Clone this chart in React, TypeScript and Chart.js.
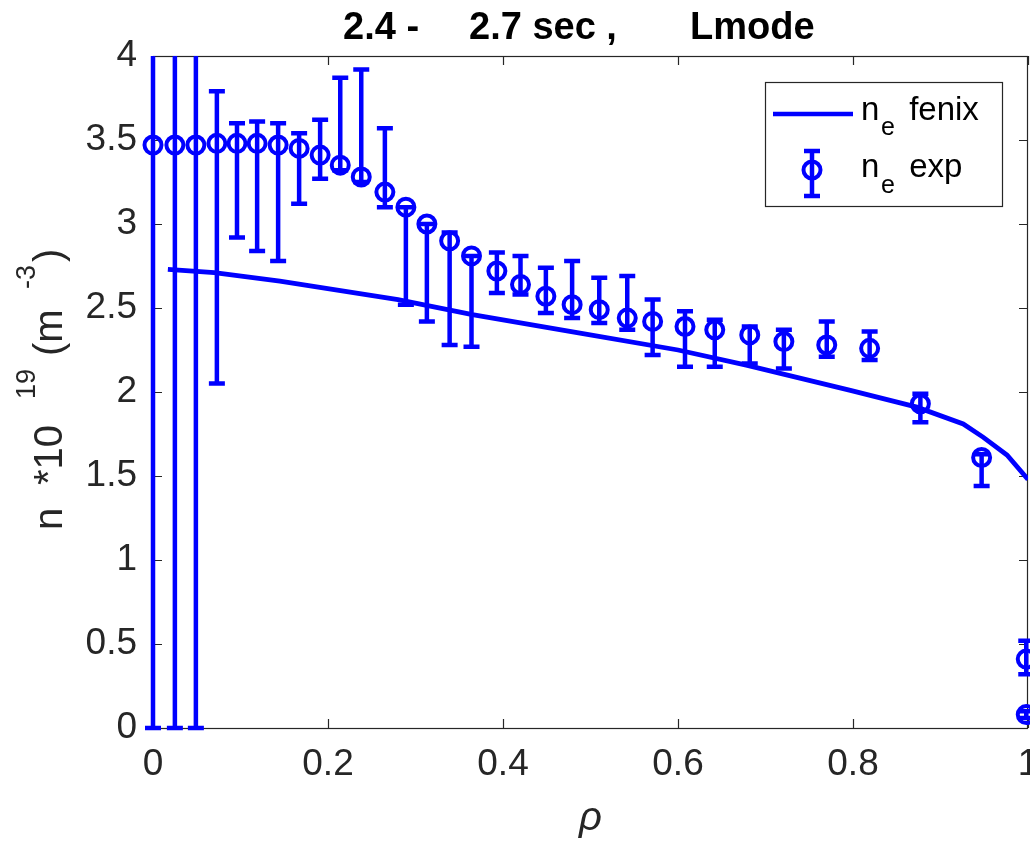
import React, { useEffect, useRef } from "react";
import { Chart, registerables } from "chart.js";

Chart.register(...registerables);

// ---- data ----
const rhoExp = [
  0.0, 0.025, 0.049, 0.073, 0.096, 0.119, 0.143, 0.167, 0.191, 0.214, 0.238,
  0.265, 0.289, 0.313, 0.339, 0.364, 0.393, 0.42, 0.449, 0.479, 0.51, 0.542,
  0.571, 0.608, 0.642, 0.682, 0.721, 0.77, 0.819, 0.877, 0.947, 0.998, 0.998,
];
const neExp = [
  3.47, 3.47, 3.47, 3.48, 3.48, 3.48, 3.47, 3.45, 3.41, 3.35, 3.28, 3.19, 3.1,
  3.0, 2.9, 2.81, 2.72, 2.64, 2.57, 2.52, 2.49, 2.44, 2.42, 2.39, 2.37, 2.34,
  2.3, 2.28, 2.26, 1.93, 1.61, 0.41, 0.08,
];
const neErrLow = [
  0.0, 0.0, 0.0, 2.05, 2.92, 2.84, 2.78, 3.12, 3.27, 3.32, 3.25, 3.1, 2.52,
  2.42, 2.28, 2.27, 2.59, 2.58, 2.47, 2.44, 2.41, 2.37, 2.22, 2.15, 2.15, 2.17,
  2.14, 2.21, 2.19, 1.82, 1.44, 0.32, 0.06,
];
const neErrHigh = [
  5.0, 5.0, 5.0, 3.79, 3.6, 3.61, 3.6, 3.54, 3.62, 3.87, 3.92, 3.57, 3.1, 3.0,
  2.95, 2.81, 2.83, 2.81, 2.74, 2.78, 2.68, 2.69, 2.55, 2.48, 2.43, 2.39, 2.37,
  2.42, 2.36, 1.99, 1.63, 0.52, 0.1,
];
const rhoFenix = [
  0.017, 0.07, 0.145, 0.28, 0.365, 0.488, 0.6, 0.678, 0.797, 0.873, 0.926,
  0.949, 0.976, 1.0,
];
const neFenix = [
  2.73, 2.71, 2.66, 2.55, 2.46, 2.35, 2.25, 2.16, 2.01, 1.91, 1.81, 1.73,
  1.625, 1.48,
];
const xTicks = [0, 0.2, 0.4, 0.6, 0.8, 1];
const xTickLabels = ["0", "0.2", "0.4", "0.6", "0.8", "1"];
const yTicks = [0, 0.5, 1, 1.5, 2, 2.5, 3, 3.5, 4];
const yTickLabels = ["0", "0.5", "1", "1.5", "2", "2.5", "3", "3.5", "4"];
const titleParts = ["2.4 -", "2.7 sec ,", "Lmode"];
const legendFenix = ["n", "e", " fenix"];
const legendExp = ["n", "e", " exp"];

const BLUE = "#0000ff";
const AX = "#262626";
const FONT = "'Liberation Sans', Arial, Helvetica, sans-serif";

export default function App() {
  const ref = useRef<HTMLCanvasElement>(null);

  useEffect(() => {
    const canvas = ref.current;
    if (!canvas) return;

    const boxPlugin = {
      id: "boxPlugin",
      beforeDatasetsDraw(chart: any) {
        const { ctx, chartArea: a, scales } = chart;
        const x = scales.x;
        const y = scales.y;
        ctx.save();
        ctx.strokeStyle = AX;
        ctx.lineWidth = 1.2;
        ctx.strokeRect(a.left + 0.5, a.top + 0.5, a.right - a.left - 1, a.bottom - a.top);
        ctx.beginPath();
        const tl = 9;
        xTicks.forEach((v) => {
          const px = Math.round(x.getPixelForValue(v)) + 0.5;
          ctx.moveTo(px, a.bottom);
          ctx.lineTo(px, a.bottom - tl);
          ctx.moveTo(px, a.top);
          ctx.lineTo(px, a.top + tl);
        });
        yTicks.forEach((v) => {
          const py = Math.round(y.getPixelForValue(v)) + 0.5;
          ctx.moveTo(a.left, py);
          ctx.lineTo(a.left + tl, py);
          ctx.moveTo(a.right, py);
          ctx.lineTo(a.right - tl, py);
        });
        ctx.stroke();

        // error bars
        ctx.beginPath();
        ctx.rect(a.left - 20, a.top, a.right - a.left + 40, a.bottom - a.top + 4);
        ctx.clip();
        ctx.strokeStyle = BLUE;
        ctx.lineWidth = 4.5;
        ctx.lineCap = "butt";
        rhoExp.forEach((r, i) => {
          const px = x.getPixelForValue(r);
          const pl = y.getPixelForValue(neErrLow[i]);
          const ph = y.getPixelForValue(neErrHigh[i]);
          ctx.beginPath();
          ctx.moveTo(px, pl);
          ctx.lineTo(px, ph);
          ctx.moveTo(px - 8, pl);
          ctx.lineTo(px + 8, pl);
          ctx.moveTo(px - 8, ph);
          ctx.lineTo(px + 8, ph);
          ctx.stroke();
        });
        ctx.restore();
      },
      afterDraw(chart: any) {
        const { ctx, chartArea: a } = chart;
        ctx.save();
        // title
        ctx.fillStyle = "#000000";
        ctx.font = `bold 38px ${FONT}`;
        ctx.textBaseline = "alphabetic";
        ctx.textAlign = "left";
        ctx.fillText(titleParts[0], 343, 39);
        ctx.fillText(titleParts[1], 469, 39);
        ctx.fillText(titleParts[2], 690, 39);

        // x label
        ctx.fillStyle = AX;
        ctx.font = `italic 40px ${FONT}`;
        ctx.textAlign = "center";
        ctx.fillText("ρ", (a.left + a.right) / 2, 830);

        // y label (rotated)
        ctx.save();
        ctx.translate(62, 530);
        ctx.rotate(-Math.PI / 2);
        ctx.textAlign = "left";
        ctx.font = `40px ${FONT}`;
        ctx.fillText("n", 0, 0);
        ctx.fillText("*10", 45, 0);
        ctx.fillText("(m", 174, 0);
        ctx.fillText(")", 268, 0);
        ctx.font = `27px ${FONT}`;
        ctx.fillText("19", 131, -27);
        ctx.fillText("-3", 241, -27);
        ctx.restore();

        // legend
        ctx.fillStyle = "#ffffff";
        ctx.fillRect(765.5, 82.5, 237, 124);
        ctx.strokeStyle = AX;
        ctx.lineWidth = 1.2;
        ctx.strokeRect(765.5, 82.5, 237, 124);
        ctx.strokeStyle = BLUE;
        ctx.lineWidth = 4.5;
        ctx.beginPath();
        ctx.moveTo(773, 114);
        ctx.lineTo(853, 114);
        ctx.stroke();
        // errorbar icon
        ctx.beginPath();
        ctx.moveTo(812, 151);
        ctx.lineTo(812, 196);
        ctx.moveTo(804, 151);
        ctx.lineTo(820, 151);
        ctx.moveTo(804, 196);
        ctx.lineTo(820, 196);
        ctx.stroke();
        ctx.lineWidth = 4;
        ctx.beginPath();
        ctx.arc(812, 170, 8.5, 0, Math.PI * 2);
        ctx.stroke();

        ctx.fillStyle = "#000000";
        ctx.textAlign = "left";
        ctx.font = `33px ${FONT}`;
        ctx.fillText(legendFenix[0], 861, 120);
        ctx.fillText(legendFenix[2], 900, 120);
        ctx.fillText(legendExp[0], 861, 177);
        ctx.fillText(legendExp[2], 900, 177);
        ctx.font = `25px ${FONT}`;
        ctx.fillText(legendFenix[1], 881, 135);
        ctx.fillText(legendExp[1], 881, 193);
        ctx.restore();
      },
    };

    const chart = new Chart(canvas, {
      type: "scatter",
      data: {
        datasets: [
          {
            type: "line",
            label: "ne fenix",
            data: rhoFenix.map((r, i) => ({ x: r, y: neFenix[i] })),
            borderColor: BLUE,
            borderWidth: 4.8,
            pointRadius: 0,
            tension: 0,
            fill: false,
          } as any,
          {
            type: "scatter",
            label: "ne exp",
            data: rhoExp.map((r, i) => ({ x: r, y: neExp[i] })),
            borderColor: BLUE,
            backgroundColor: "rgba(0,0,0,0)",
            borderWidth: 4,
            pointRadius: 8.5,
            pointStyle: "circle",
            clip: false,
          } as any,
        ],
      },
      options: {
        responsive: false,
        animation: false,
        events: [],
        layout: { autoPadding: false, padding: { top: 56, right: 2, left: 0, bottom: 0 } },
        plugins: {
          legend: { display: false },
          title: { display: false },
          tooltip: { enabled: false },
        },
        scales: {
          x: {
            type: "linear",
            min: 0,
            max: 1,
            grid: { display: false, drawTicks: false },
            border: { display: false },
            afterBuildTicks: (s: any) => {
              s.ticks = xTicks.map((v) => ({ value: v }));
            },
            afterFit: (s: any) => {
              s.height = 114;
              s.paddingLeft = 0;
              s.paddingRight = 0;
            },
            ticks: {
              color: AX,
              font: { family: FONT, size: 37 },
              padding: 15,
              maxRotation: 0,
              autoSkip: false,
              callback: (_v: any, i: number) => xTickLabels[i],
            },
          },
          y: {
            type: "linear",
            min: 0,
            max: 4,
            grid: { display: false, drawTicks: false },
            border: { display: false },
            afterBuildTicks: (s: any) => {
              s.ticks = yTicks.map((v) => ({ value: v }));
            },
            afterFit: (s: any) => {
              s.width = 153;
              s.paddingTop = 0;
              s.paddingBottom = 0;
            },
            ticks: {
              color: AX,
              font: { family: FONT, size: 37 },
              padding: 16,
              autoSkip: false,
              callback: (_v: any, i: number) => yTickLabels[i],
            },
          },
        },
      },
      plugins: [boxPlugin],
    });

    return () => chart.destroy();
  }, []);

  return (
    <div style={{ position: "absolute", left: 0, top: 0, width: 1030, height: 842, background: "#fff" }}>
      <canvas ref={ref} width={1030} height={842} style={{ display: "block" }} />
    </div>
  );
}
